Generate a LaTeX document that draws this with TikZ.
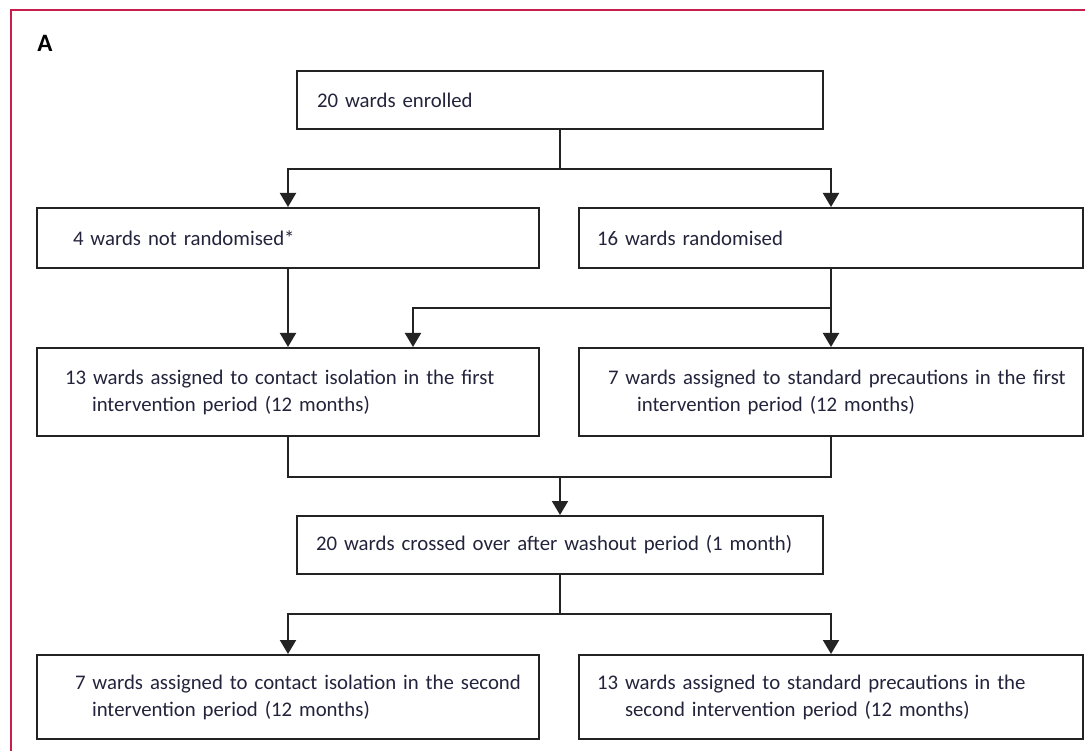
\documentclass[tikz,border=0pt]{standalone}
\usepackage{fontspec}
\setmainfont{Carlito}
\usetikzlibrary{arrows.meta}
\definecolor{framered}{RGB}{200,30,75}
\definecolor{boxline}{RGB}{35,35,35}
\definecolor{wardtext}{RGB}{35,35,60}

\begin{document}
\begin{tikzpicture}[x=1pt,y=-1pt,
	wardbox/.style={draw=boxline, line width=2pt, align=left, inner ysep=0pt,
		font=\fontsize{20.8}{27}\selectfont, text=wardtext},
	link/.style={draw=boxline, line width=2pt},
	flow/.style={link, -{Triangle[width=16pt,length=14pt]}}]

	\useasboundingbox (0,0) rectangle (1085,751);
	\draw[framered, line width=2pt] (11,10) rectangle (1100,770);
	\node[font=\bfseries\fontsize{25}{25}\selectfont] (panel) at (45,43) {A};

	% boxes
	\node[wardbox, minimum height=58pt, text width=486pt, inner xsep=20pt] (enrolled) at (560,100) {20 wards enrolled};
	\node[wardbox, minimum height=60pt, text width=430pt, inner xsep=36pt] (notrand) at (288,238) {4 wards not randomised*};
	\node[wardbox, minimum height=60pt, text width=468pt, inner xsep=18pt] (randomised) at (831,238) {16 wards randomised};
	\node[wardbox, minimum height=88pt, text width=446pt, inner xsep=28pt] (contact1) at (288,392)
		{\mbox{13 wards assigned to contact isolation in the first}\\\hspace*{27pt}\mbox{intervention period (12 months)}};
	\node[wardbox, minimum height=88pt, text width=446pt, inner xsep=29pt] (standard1) at (831,392)
		{\mbox{7 wards assigned to standard precautions in the first}\\\hspace*{29pt}\mbox{intervention period (12 months)}};
	\node[wardbox, minimum height=58pt, text width=488pt, inner xsep=19pt] (crossed) at (560,545) {20 wards crossed over after washout period (1 month)};
	\node[wardbox, minimum height=84pt, text width=426pt, inner xsep=38pt] (contact2) at (288,697)
		{\mbox{7 wards assigned to contact isolation in the second}\\\hspace*{17pt}\mbox{intervention period (12 months)}};
	\node[wardbox, minimum height=84pt, text width=468pt, inner xsep=18pt] (standard2) at (831,697)
		{\mbox{13 wards assigned to standard precautions in the}\\\hspace*{28pt}\mbox{second intervention period (12 months)}};

	% connectors
	\coordinate (split1) at (560,169);
	\coordinate (branch) at (831,308);
	\coordinate (merge1) at (560,477);
	\coordinate (split2) at (560,614);
	\draw[flow] (enrolled.south) -- (split1) -| (notrand.north);
	\draw[flow] (split1) -| (randomised.north);
	\draw[flow] (notrand.south) -- (contact1.north);
	\draw[flow] (randomised.south) -- (standard1.north);
	\draw[flow] (branch) -| (413,0 |- contact1.north);
	\draw[link] (contact1.south) |- (merge1) -| (standard1.south);
	\draw[flow] (merge1) -- (crossed.north);
	\draw[flow] (crossed.south) -- (split2) -| (contact2.north);
	\draw[flow] (split2) -| (standard2.north);

\end{tikzpicture}
\end{document}
